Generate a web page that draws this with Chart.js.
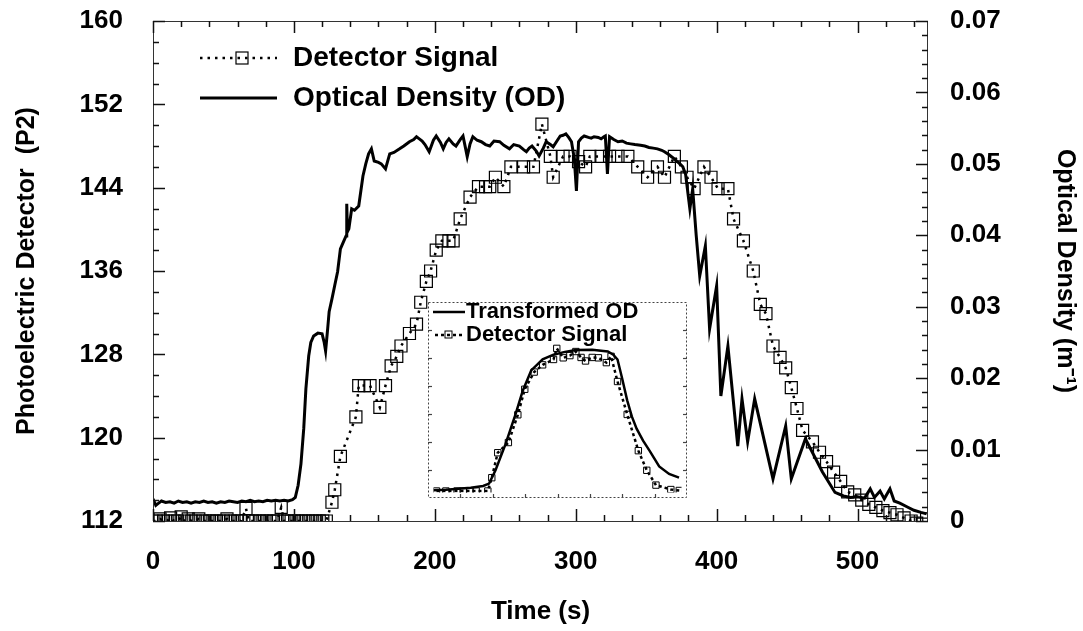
<!DOCTYPE html>
<html><head><meta charset="utf-8">
<script src="https://cdn.jsdelivr.net/npm/chart.js@4.4.1/dist/chart.umd.min.js"></script>
<style>
html,body{margin:0;padding:0;background:#fff;}
#wrap{position:relative;width:1083px;height:631px;overflow:hidden;}
#main{position:absolute;left:0;top:0;}
#inset{position:absolute;left:428px;top:302px;}
</style></head><body>
<div id="wrap">
<canvas id="main" width="1083" height="631"></canvas>
<canvas id="inset" width="259" height="196"></canvas>
</div>
<script>
// ---------- DATA ----------
const odTime = [0,2,4,6,9,12,15,18,21,24,27,30,33,36,39,42,45,48,51,54,57,60,63,66,69,72,75,78,81,84,87,90,93,96,99,
101,103,105,107,108.5,110.5,112,114,117,120,121.5,122.5,124,125,127,129,131,133,135,137,137.5,138,139,141,143,146,149,151,153,155,157,160,162,165,168,171,175,178,182,185,187,189,191,193,196,199,201,204,206,208,210,213,215,218,220,222,223,225,227,230,233,236,239,242,246,249,253,256,260,263,265,267,269,272,274,277,279,282,284,287,289,291,293,295,297,299,300.5,302,304,306,309,311,313,316,318,320,321,322.5,324,327,330,333,336,339,342,346,349,352,355,358,361,363,366,368,370,372,374,376,378,379,381,383,385.5,388,392,395,400,403,408,415,418,422,427,440,449,453,463,475,484,490,495,500,505,509,512,516,519,523,526,530,535,540,545,549];
const odValue = [0.0031,0.0022,0.0025,0.0028,0.0026,0.0027,0.0025,0.0028,0.0026,0.0027,0.0025,0.0027,0.0026,0.0028,0.0026,0.0027,0.0025,0.0027,0.0026,0.0028,0.0027,0.0026,0.0028,0.0027,0.0029,0.0027,0.0028,0.0027,0.0029,0.0028,0.0029,0.0028,0.0029,0.0028,0.0030,
0.0033,0.0050,0.0080,0.0130,0.0185,0.0231,0.0250,0.0259,0.0263,0.0262,0.0250,0.0238,0.0270,0.0293,0.0311,0.0330,0.0349,0.0381,0.0390,0.0399,0.0444,0.0405,0.0409,0.0437,0.0435,0.0441,0.0483,0.0500,0.0514,0.0521,0.0504,0.0502,0.0500,0.0493,0.0514,0.0516,0.0521,0.0525,0.0531,0.0534,0.0538,0.0535,0.0532,0.0527,0.0517,0.0533,0.0539,0.0530,0.0521,0.0530,0.0535,0.0528,0.0525,0.0534,0.0539,0.0520,0.0510,0.0528,0.0538,0.0533,0.0531,0.0527,0.0525,0.0532,0.0531,0.0526,0.0521,0.0527,0.0525,0.0520,0.0517,0.0522,0.0525,0.0518,0.0511,0.0522,0.0531,0.0527,0.0524,0.0533,0.0539,0.0540,0.0542,0.0537,0.0531,0.0507,0.0462,0.0531,0.0536,0.0539,0.0537,0.0536,0.0538,0.0537,0.0535,0.0538,0.0539,0.0486,0.0538,0.0534,0.0531,0.0532,0.0529,0.0528,0.0527,0.0526,0.0525,0.0523,0.0522,0.0521,0.0519,0.0517,0.0513,0.0510,0.0507,0.0503,0.0500,0.0496,0.0485,0.0469,0.0437,0.0465,0.0400,0.0343,0.0385,0.0269,0.0329,0.0175,0.0245,0.0105,0.0171,0.0111,0.0171,0.0059,0.0133,0.0059,0.0115,0.0069,0.0040,0.0035,0.0033,0.0034,0.0032,0.0045,0.0033,0.0042,0.0031,0.0045,0.0028,0.0025,0.0020,0.0015,0.0012,0.0010];

const detTime = [0,2.5,5,7.5,10,12.5,15,17.5,20,22.5,25,27.5,30,32.5,35,37.5,40,42.5,45,47.5,50,52.5,55,57.5,60,62.5,66,68,70.5,73,75.5,78,80.5,83,85.5,88,91,93,95.5,98,100.5,103,105.5,108,110.5,113,115.5,118,120.5,123,
127,129,133,144,146,150,154,161,165,169,173,176,182,187,190,194,197,201,205,210,213,218,225,231,236,239,243,249,254,263,270,276,282,284,291,296,302,307,310,318,324,330,337,344,351,358,363,370,375,379,384,391,396,401,408,412,419,426,431,435,440,445,449,453,457,461,468,473,478,483,488,493,498,503,508,513,518,523,528,533,538,542,546,549];
const detValue = [112,112,112.2,112,112,112.3,112,112,112.4,112,112.2,112,112,112.2,112,112,112,112,112,112,112,112.2,112,112,112,112,113.2,112,112,112,112,112,112,112,112,112,113.3,112,112,112,112,112,112,112,112,112,112,112,112,112,
113.8,115,118.2,122,125,125,125,122.9,125,126.9,127.8,128.8,130,130.9,133,135,136,138,138.9,138.9,138.9,141,143.1,144.1,144.1,144.1,145,144.1,146,146,146,150.1,147,145,147,147,146.5,146,147,147,147,147,147,146,145,146,145,147,146,145,143.9,146,145,143.9,143.9,141,138.9,136,132.8,131.9,128.8,127.7,126.7,124.8,122.8,120.7,119.6,118.6,117.7,116.7,115.8,114.8,114.5,114,113.6,113.3,113,112.8,112.6,112.3,112,111.8,111.7,112.2];

// inset (normalised 0..1 on both axes)
const insetOdU = [0,0.05,0.1,0.15,0.2,0.224,0.25,0.29,0.33,0.36,0.394,0.44,0.484,0.53,0.574,0.64,0.703,0.725,0.742,0.76,0.781,0.8,0.819,0.845,0.871,0.91,0.95,0.99];
const insetOdV = [0.012,0.015,0.02,0.026,0.035,0.048,0.12,0.26,0.42,0.55,0.66,0.72,0.745,0.76,0.77,0.772,0.762,0.745,0.719,0.62,0.498,0.41,0.345,0.28,0.226,0.141,0.10,0.08];
const insetDetU = [0.012,0.05,0.095,0.12,0.147,0.172,0.219,0.235,0.259,0.302,0.34,0.368,0.406,0.44,0.484,0.497,0.523,0.55,0.574,0.595,0.613,0.64,0.665,0.697,0.716,0.742,0.781,0.826,0.86,0.897,0.957,0.991];
const insetDetV = [0.008,0.008,0.008,0.008,0.008,0.008,0.008,0.08,0.215,0.27,0.42,0.558,0.651,0.69,0.719,0.779,0.728,0.74,0.762,0.73,0.711,0.73,0.728,0.702,0.736,0.60,0.422,0.226,0.12,0.04,0.016,0.011];

const xTicks = {min:0, max:550, step:100};
const leftTicks = {min:112, max:160, step:8};
const rightTicks = {min:0, max:0.07, step:0.01};

// ---------- CHART ----------
const FONT = "'Liberation Sans', Arial, Helvetica, sans-serif";
Chart.defaults.font.family = FONT;
Chart.defaults.color = '#000';

function pts(xs, ys){ return xs.map((x,i)=>({x:x, y:ys[i]})); }
function seg(ctx,x1,y1,x2,y2){ ctx.beginPath(); ctx.moveTo(x1,y1); ctx.lineTo(x2,y2); ctx.stroke(); }
function noPadV(s){ s.paddingTop = 0; s.paddingBottom = 0; }

const framePlugin = {
  id:'frame',
  afterDatasetsDraw(chart){
    const {ctx, chartArea:a, scales} = chart;
    ctx.save();
    ctx.strokeStyle='#333'; ctx.lineWidth=1; ctx.setLineDash([]);
    ctx.strokeRect(a.left+0.5, a.top+0.5, a.right-a.left-1, a.bottom-a.top);
    ctx.strokeStyle='#111'; ctx.lineWidth=1.5;
    for(let i=0;i*20<=scales.x.max;i++){
      const v=i*20, px=Math.round(scales.x.getPixelForValue(v))+0.5, L=(v%100===0)?12:6;
      seg(ctx,px,a.bottom,px,a.bottom-L); seg(ctx,px,a.top,px,a.top+L);
    }
    for(let i=0;i<=24;i++){
      const v=112+i*2, py=Math.round(scales.y.getPixelForValue(v))+0.5, L=(i%4===0)?12:6;
      seg(ctx,a.left,py,a.left+L,py);
    }
    for(let i=0;i<=35;i++){
      const v=i*0.002, py=Math.round(scales.y2.getPixelForValue(v))+0.5, L=(i%5===0)?12:6;
      seg(ctx,a.right,py,a.right-L,py);
    }
    ctx.restore();
  },
  afterDraw(chart){
    const ctx=chart.ctx;
    ctx.save();
    ctx.fillStyle='#000'; ctx.strokeStyle='#000';
    ctx.font='bold 28px '+FONT; ctx.textBaseline='middle'; ctx.textAlign='left';
    ctx.lineWidth=2.5; ctx.setLineDash([2.5,5]);
    seg(ctx,200,58,277,58);
    ctx.setLineDash([]); ctx.lineWidth=1.2;
    ctx.strokeRect(236,52,12,12);
    ctx.fillText('Detector Signal',293,58);
    ctx.lineWidth=3;
    seg(ctx,200,98,277,98);
    ctx.fillText('Optical Density (OD)',293,98);
    ctx.restore();
  }
};

new Chart(document.getElementById('main'), {
  type:'line',
  data:{datasets:[
    {label:'Optical Density (OD)', data:pts(odTime,odValue), yAxisID:'y2', borderColor:'#000', borderWidth:3, pointRadius:0, tension:0, fill:false},
    {label:'Detector Signal', data:pts(detTime,detValue), yAxisID:'y', borderColor:'#000', borderWidth:2.5, borderDash:[2.5,5], pointStyle:'rect', pointRadius:8.5, pointBorderWidth:1.2, pointBorderColor:'#000', pointBackgroundColor:'rgba(0,0,0,0)', tension:0, fill:false}
  ]},
  options:{
    responsive:false, animation:false, devicePixelRatio:1,
    layout:{padding:{top:21,left:0,right:0,bottom:0}},
    plugins:{legend:{display:false}, tooltip:{enabled:false}},
    scales:{
      x:{type:'linear', position:'bottom', min:xTicks.min, max:xTicks.max,
         grid:{display:false, drawTicks:false}, border:{display:false},
         ticks:{stepSize:xTicks.step, includeBounds:false, padding:25, maxRotation:0, color:'#000', font:{size:26, weight:'bold'}},
         title:{display:true, text:'Time (s)', color:'#000', font:{size:26, weight:'bold'}, padding:{top:0,bottom:4}},
         afterFit(s){ s.height=110; s.paddingLeft=0; s.paddingRight=0; }},
      y:{type:'linear', position:'left', min:leftTicks.min, max:leftTicks.max,
         grid:{display:false, drawTicks:false}, border:{display:false},
         ticks:{stepSize:leftTicks.step, padding:30, color:'#000', font:{size:26, weight:'bold'}},
         title:{display:true, text:'Photoelectric Detector  (P2)', color:'#000', font:{size:25, weight:'bold'}, padding:{top:12,bottom:0}},
         afterFit(s){ s.width=153; noPadV(s); }},
      y2:{type:'linear', position:'right', min:rightTicks.min, max:rightTicks.max,
         grid:{display:false, drawTicks:false}, border:{display:false},
         ticks:{stepSize:rightTicks.step, padding:22, color:'#000', font:{size:26, weight:'bold'},
                callback:(v)=> Math.abs(v)<1e-9 ? '0' : v.toFixed(2)},
         title:{display:true, text:'Optical Density (m\u207B\u00B9)', color:'#000', font:{size:25, weight:'bold'}, padding:{top:3,bottom:0}},
         afterFit(s){ s.width=155; noPadV(s); }}
    }
  },
  plugins:[framePlugin]
});

// ---------- INSET ----------
const insetPlugin = {
  id:'insetDeco',
  beforeDraw(chart){
    const ctx=chart.ctx; ctx.save(); ctx.fillStyle='#fff'; ctx.fillRect(0,0,chart.width,chart.height); ctx.restore();
  },
  afterDraw(chart){
    const ctx=chart.ctx, W=chart.width, H=chart.height;
    ctx.save();
    ctx.strokeStyle='#444'; ctx.lineWidth=1; ctx.setLineDash([2,2]);
    ctx.strokeRect(0.5,0.5,W-1,H-1);
    ctx.setLineDash([]); ctx.lineWidth=1.2;
    for(let i=1;i<7;i++){ const y=Math.round(i*H/7)+0.5; seg(ctx,0,y,4,y); seg(ctx,W,y,W-4,y); }
    for(let i=1;i<8;i++){ const x=Math.round(i*W/8)+0.5; seg(ctx,x,H,x,H-4); }
    ctx.fillStyle='#000'; ctx.strokeStyle='#000';
    ctx.font='bold 22px '+FONT; ctx.textBaseline='middle'; ctx.textAlign='left';
    ctx.lineWidth=2.5; seg(ctx,5,10,37,10);
    ctx.fillText('Transformed OD',38,10);
    ctx.setLineDash([3,3]); seg(ctx,7,33,37,33); ctx.setLineDash([]);
    ctx.lineWidth=1; ctx.strokeRect(17,29,7,7);
    ctx.fillText('Detector Signal',38,33);
    ctx.restore();
  }
};

new Chart(document.getElementById('inset'), {
  type:'line',
  data:{datasets:[
    {label:'Transformed OD', data:pts(insetOdU,insetOdV), borderColor:'#000', borderWidth:2.5, pointRadius:0, tension:0},
    {label:'Detector Signal', data:pts(insetDetU,insetDetV), borderColor:'#000', borderWidth:2.5, borderDash:[3,3], pointStyle:'rect', pointRadius:4.5, pointBorderWidth:1, pointBorderColor:'#000', pointBackgroundColor:'rgba(0,0,0,0)', tension:0}
  ]},
  options:{
    responsive:false, animation:false, devicePixelRatio:1,
    layout:{padding:0},
    plugins:{legend:{display:false}, tooltip:{enabled:false}},
    scales:{x:{type:'linear',min:0,max:1,display:false}, y:{type:'linear',min:0,max:1,display:false}}
  },
  plugins:[insetPlugin]
});
</script>
</body></html>
